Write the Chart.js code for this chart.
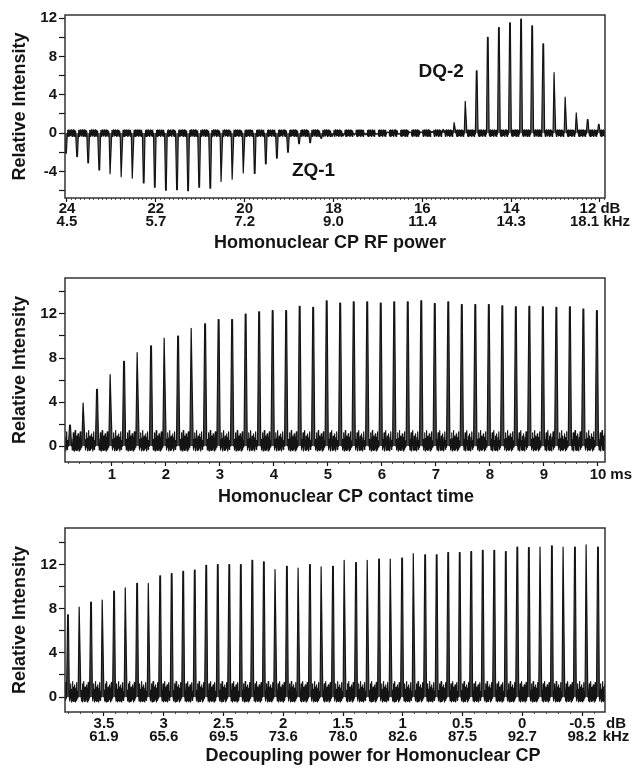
<!DOCTYPE html>
<html>
<head>
<meta charset="utf-8">
<script src="https://cdn.jsdelivr.net/npm/chart.js@4.4.1/dist/chart.umd.min.js"></script>
<style>
  html, body { margin: 0; padding: 0; background: #fff; }
  #wrap { position: relative; width: 633px; height: 774px; }
  canvas { position: absolute; left: 0; }
</style>
</head>
<body>
<div id="wrap">
  <canvas id="c1" width="633" height="258" style="top:0"></canvas>
  <canvas id="c2" width="633" height="250" style="top:258px"></canvas>
  <canvas id="c3" width="633" height="266" style="top:508px"></canvas>
</div>
<script>
// ── data ──────────────────────────────────────────────────────────────────
// panel 1: RF power sweep (one sub-spectrum per 0.25 dB step)
const rfDb  = [24, 22, 20, 18, 16, 14, 12];
const rfKhz = ['4.5', '5.7', '7.2', '9.0', '11.4', '14.3', '18.1'];
const rfPeaks = [
  -2.1, -2.45, -3.1, -3.85, -4.25, -4.55, -4.7, -5.2, -5.65, -5.95,
  -5.9, -6.0, -5.65, -5.75, -5.05, -4.8, -4.15, -4.2, -3.2, -2.6,
  -2.0, -1.1, -1.0, -0.55, -0.35, -0.3, -0.2, -0.15, -0.1, 0.1,
  -0.1, 0.1, 0.1, 0.15, 0.4, 1.1, 3.3, 6.5, 10.0, 11.0,
  11.5, 11.9, 11.2, 9.3, 6.3, 3.75, 2.1, 1.4, 0.9
];
// panel 2: contact time sweep
const ctTicks = [1, 2, 3, 4, 5, 6, 7, 8, 9, 10];
const ctPeaks = [
  1.9, 3.9, 5.15, 6.5, 7.7, 8.5, 9.1, 9.8, 10.0, 10.7,
  11.1, 11.5, 11.5, 12.0, 12.2, 12.3, 12.3, 12.7, 12.6, 13.2,
  13.0, 13.1, 13.1, 13.0, 13.1, 13.1, 13.2, 12.95, 13.1, 12.85,
  12.85, 12.85, 12.75, 12.65, 12.7, 12.65, 12.6, 12.65, 12.45, 12.3
];
// panel 3: decoupling power sweep
const decDb  = [3.5, 3, 2.5, 2, 1.5, 1, 0.5, 0, -0.5];
const decKhz = ['61.9', '65.6', '69.5', '73.6', '78.0', '82.6', '87.5', '92.7', '98.2'];
const decPeaks = [
  7.45, 8.15, 8.6, 8.8, 9.6, 9.9, 10.3, 10.3, 11.0, 11.2,
  11.4, 11.5, 11.95, 12.0, 12.0, 12.0, 12.4, 12.25, 11.55, 11.85,
  11.7, 12.0, 11.8, 11.85, 12.4, 12.2, 12.4, 12.5, 12.5, 12.6,
  13.0, 12.9, 12.9, 13.1, 13.1, 13.2, 13.3, 13.3, 13.2, 13.6,
  13.55, 13.6, 13.7, 13.6, 13.6, 13.8, 13.6
];
// baseline wiggle between the peaks of one sub-spectrum
const baseRf  = [
  0.3, -0.3, 0.2, -0.35, 0.35, -0.15, 0.3, -0.3, 0.25, -0.25, 0.35, -0.2,
  0.2, -0.35, 0.3, -0.1, 0.35, -0.3, 0.25, -0.2, 0.3, -0.35, 0.2, -0.1
];
const baseSat = [
  0.3, -0.35, 0.6, -0.1, 1.2, 0.0, -0.45, 0.7, 0.1, 1.4, -0.3, 0.5, -0.4, 0.9,
  0.2, -0.35, 0.6, 1.1, -0.2, 0.4, -0.45, 0.8, 0.0, 1.3, -0.3, 0.5, -0.1, 0.3
];

const FONT = '"Liberation Sans", Arial, Helvetica, sans-serif';
const INK = '#141414';

// one trace: baseline wiggle, then the peak of each sub-spectrum at its index
function trace(peaks, base) {
  const pts = [];
  const n = base.length;
  for (let k = 0; k <= peaks.length; k++) {
    base.forEach((b, j) => pts.push({x: k - 0.86 + 0.72 * j / (n - 1), y: b}));
    if (k === peaks.length) break;
    pts.push({x: k - 0.12, y: 0});
    pts.push({x: k - 0.03, y: peaks[k]});
    pts.push({x: k + 0.03, y: peaks[k]});
    pts.push({x: k + 0.12, y: 0});
  }
  return pts;
}

// frame, x title, units, annotations
function extras(p) {
  return {
    id: 'extras',
    afterDraw(chart) {
      const {ctx, chartArea: a, scales} = chart;
      ctx.save();
      ctx.strokeStyle = '#333';
      ctx.lineWidth = 1.5;
      ctx.strokeRect(a.left, a.top, a.right - a.left, a.bottom - a.top);
      ctx.fillStyle = INK;
      ctx.textBaseline = 'middle';
      ctx.textAlign = 'center';
      ctx.font = 'bold 18px ' + FONT;
      ctx.fillText(p.title, p.titleX, p.titleY);
      ctx.textAlign = p.unitAlign || 'center';
      ctx.font = 'bold 15px ' + FONT;
      const y0 = a.bottom + 4 + p.tickPad + 6.75;
      (p.units || []).forEach((u, i) => ctx.fillText(u, p.unitX, y0 + i * 13.5));
      ctx.textAlign = 'center';
      ctx.font = 'bold 19px ' + FONT;
      (p.notes || []).forEach(n => {
        ctx.fillText(n.text, scales.x.getPixelForValue(n.x), scales.y.getPixelForValue(n.y));
      });
      ctx.restore();
    }
  };
}

function panel(id, p) {
  return new Chart(document.getElementById(id), {
    type: 'line',
    data: {
      datasets: [{
        data: trace(p.peaks, p.base), xAxisID: 'x', yAxisID: 'y',
        borderColor: INK, borderWidth: 1.2, borderJoinStyle: 'round',
        fill: 'origin', backgroundColor: p.shade,
        pointRadius: 0, tension: 0,
      }]
    },
    options: {
      responsive: false, animation: false, events: [], devicePixelRatio: 1,
      layout: {padding: {left: 0, right: 28, top: p.top, bottom: 0}},
      plugins: {legend: {display: false}, tooltip: {enabled: false}},
      scales: {
        x: {type: 'linear', display: false, min: p.idx[0], max: p.idx[1]},
        minor: {
          type: 'linear', position: 'bottom', weight: -1, reverse: p.reverse,
          min: p.axis[0], max: p.axis[1],
          afterBuildTicks: s => {
            const t = [];
            for (let i = Math.ceil(s.min / p.minorStep - 1e-9); i * p.minorStep <= s.max + 1e-9; i++) {
              t.push({value: i * p.minorStep});
            }
            s.ticks = t;
          },
          afterFit: s => { s.height = 0; },
          ticks: {display: false},
          grid: {drawOnChartArea: false, tickLength: 2, tickColor: '#555', tickWidth: 1},
          border: {display: false},
        },
        major: {
          type: 'linear', position: 'bottom', weight: 0, reverse: p.reverse,
          min: p.axis[0], max: p.axis[1],
          afterBuildTicks: s => { s.ticks = p.ticks.map(v => ({value: v})); },
          afterFit: s => { s.height = p.xh; },
          ticks: {
            autoSkip: false, maxRotation: 0, minRotation: 0, padding: p.tickPad, color: INK,
            font: {family: FONT, size: 15, weight: 'bold', lineHeight: 0.9},
            callback: (v, i) => p.labels(i),
          },
          grid: {drawOnChartArea: false, tickLength: 4, tickColor: INK, tickWidth: 1.2},
          border: {display: false},
        },
        y: {
          min: p.y[0], max: p.y[1],
          afterBuildTicks: s => {
            const t = [];
            for (let v = Math.ceil(s.min / 2) * 2; v <= s.max; v += 2) t.push({value: v});
            s.ticks = t;
          },
          afterFit: s => { s.width = 65; },
          ticks: {
            autoSkip: false, padding: 2, color: INK,
            font: {family: FONT, size: 15, weight: 'bold'},
            callback: v => (v % 4 === 0 ? String(v) : ''),
          },
          grid: {drawOnChartArea: false, tickLength: 6, tickColor: INK, tickWidth: 1.2},
          border: {display: false},
          title: {
            display: true, text: 'Relative Intensity', color: INK,
            font: {family: FONT, size: 18, weight: 'bold'}, padding: {top: 9, bottom: 0},
          },
        },
      },
    },
    plugins: [extras(p)],
  });
}

const rfUnits = ['dB', 'kHz'];
const ctUnits = ['ms'];
const decUnits = ['dB', 'kHz'];

panel('c1', {
  peaks: rfPeaks, base: baseRf, top: 15, xh: 60, shade: '#666',
  idx: [-0.09, 48.56], axis: [11.887, 24.045], reverse: true,
  ticks: rfDb, minorStep: 0.1,
  labels: i => (i === rfDb.length - 1
    ? [rfDb[i] + ' ' + rfUnits[0], rfKhz[i] + ' ' + rfUnits[1]]
    : [String(rfDb[i]), rfKhz[i]]),
  y: [-6.77, 12.32], tickPad: 0,
  title: 'Homonuclear CP RF power', titleX: 330, titleY: 243,
  notes: [{text: 'DQ-2', x: 33.8, y: 6.4}, {text: 'ZQ-1', x: 22.3, y: -3.9}],
});

panel('c2', {
  peaks: ctPeaks, base: baseSat, top: 20, xh: 46, shade: '#444',
  idx: [-0.37, 39.6], axis: [0.13, 10.13], reverse: false,
  ticks: ctTicks, labels: i => String(ctTicks[i]), minorStep: 0.2,
  y: [-1.45, 15.27], tickPad: 2,
  title: 'Homonuclear CP contact time', titleX: 346, titleY: 239,
  units: ctUnits, unitX: 632, unitAlign: 'right',
});

panel('c3', {
  peaks: decPeaks, base: baseSat, top: 20, xh: 62, shade: '#444',
  idx: [-0.26, 46.61], axis: [-0.692, 3.826], reverse: true,
  ticks: decDb, labels: i => [String(decDb[i]), decKhz[i]], minorStep: 0.1,
  y: [-1.36, 15.33], tickPad: 1,
  title: 'Decoupling power for Homonuclear CP', titleX: 373, titleY: 248,
  units: decUnits, unitX: 616, unitAlign: 'center',
});
</script>
</body>
</html>
